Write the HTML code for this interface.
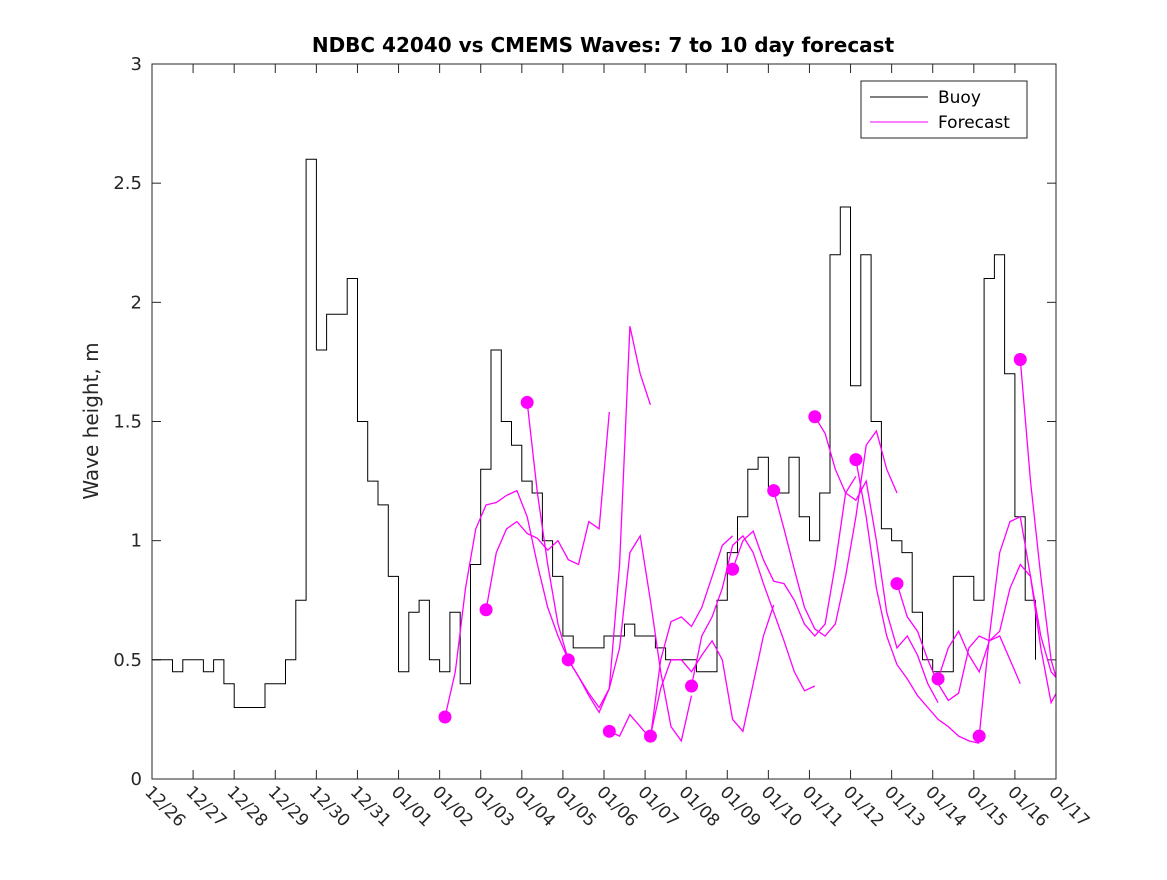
<!DOCTYPE html>
<html><head><meta charset="utf-8"><style>
body{margin:0;background:#fff;}
svg{font-family:"DejaVu Sans","Liberation Sans",sans-serif;}
</style></head><body>
<svg id="chart" width="1167" height="875" viewBox="0 0 1167 875" xmlns="http://www.w3.org/2000/svg">
<rect width="1167" height="875" fill="#fff"/>
<defs><clipPath id="clip"><rect x="152" y="64" width="904" height="715"/></clipPath></defs>
<text x="603" y="52" text-anchor="middle" font-size="20" font-weight="bold" fill="#000">NDBC 42040 vs CMEMS Waves: 7 to 10 day forecast</text>
<text transform="translate(98,421) rotate(-90)" text-anchor="middle" font-size="20" fill="#262626">Wave height, m</text>
<g id="axes"></g>
<g id="series" clip-path="url(#clip)"></g>
<g id="dots"></g>
<rect x="152" y="64" width="904" height="715" fill="none" stroke="#262626" stroke-width="1"/>
<g>
<rect x="861" y="81" width="166" height="57" fill="#fff" stroke="#262626" stroke-width="1"/>
<line x1="870" y1="97" x2="928" y2="97" stroke="#000" stroke-width="1"/>
<text x="938" y="103" font-size="17" fill="#000">Buoy</text>
<line x1="870" y1="122" x2="928" y2="122" stroke="#f0f" stroke-width="1"/>
<text x="938" y="128" font-size="17" fill="#000">Forecast</text>
</g>
</svg>
<script>
const xTickLabels = ["12/26","12/27","12/28","12/29","12/30","12/31","01/01","01/02","01/03","01/04","01/05","01/06","01/07","01/08","01/09","01/10","01/11","01/12","01/13","01/14","01/15","01/16","01/17"];
const yTicks = [0,0.5,1,1.5,2,2.5,3];
const yTickLabels = ["0","0.5","1","1.5","2","2.5","3"];
// buoy values every 6 hours starting 12/26 00:00
const buoyStep = 0.25;
const buoyValues = [
0.5,0.5,0.45,0.5,
0.5,0.45,0.5,0.4,
0.3,0.3,0.3,0.4,
0.4,0.5,0.75,2.6,
1.8,1.95,1.95,2.1,
1.5,1.25,1.15,0.85,
0.45,0.7,0.75,0.5,
0.45,0.7,0.4,0.9,
1.3,1.8,1.5,1.4,
1.25,1.2,1.0,0.85,
0.6,0.55,0.55,0.55,
0.6,0.6,0.65,0.6,
0.6,0.55,0.5,0.5,
0.5,0.45,0.45,0.75,
0.95,1.1,1.3,1.35,
1.2,1.2,1.35,1.1,
1.0,1.2,2.2,2.4,
1.65,2.2,1.5,1.05,
1.0,0.95,0.7,0.5,
0.45,0.45,0.85,0.85,
0.75,2.1,2.2,1.7,
1.1,0.75,0.5];
// forecast start days (days since 12/26) and values every 6 h over 72 h
const forecastStarts = [7.13,8.13,9.13,10.13,11.13,12.13,13.13,14.13,15.13,16.13,17.13,18.13,19.13,20.13,21.13];
const forecastStep = 0.25;
const f01 = [0.26,0.45,0.8,1.05,1.15,1.16,1.19,1.21,1.1,0.9,0.72,0.6,0.5];
const f02 = [0.71,0.95,1.05,1.08,1.03,1.01,0.96,1.0,0.92,0.9,1.08,1.05,1.54];
const f03 = [1.58,1.2,0.9,0.65,0.5,0.43,0.36,0.3,0.38,0.9,1.9,1.7,1.57];
const f04 = [0.5,0.43,0.35,0.28,0.38,0.55,0.95,1.02,0.75,0.45,0.22,0.16,0.35];
const f05 = [0.2,0.18,0.27,0.22,0.17,0.5,0.66,0.68,0.64,0.72,0.85,0.98,1.02];
const f06 = [0.18,0.38,0.5,0.5,0.45,0.52,0.58,0.5,0.25,0.2,0.4,0.6,0.73];
const f07 = [0.39,0.6,0.68,0.8,0.98,1.02,0.95,0.82,0.7,0.58,0.45,0.37,0.39];
const f08 = [0.88,1.0,1.04,0.92,0.83,0.82,0.75,0.65,0.6,0.65,0.9,1.2,1.27];
const f09 = [1.21,1.05,0.88,0.72,0.63,0.6,0.65,0.85,1.1,1.4,1.46,1.3,1.2];
const f10 = [1.52,1.45,1.3,1.2,1.17,1.25,1.0,0.7,0.55,0.6,0.52,0.4,0.32];
const f11 = [1.34,1.1,0.8,0.6,0.48,0.42,0.35,0.3,0.25,0.22,0.18,0.16,0.15];
const f12 = [0.82,0.68,0.62,0.5,0.4,0.33,0.36,0.55,0.6,0.58,0.6,0.5,0.4];
const f13 = [0.42,0.55,0.62,0.52,0.45,0.58,0.62,0.8,0.9,0.85,0.6,0.45,0.4];
const f14 = [0.18,0.6,0.95,1.08,1.1,0.85,0.55,0.32,0.4,0.65,0.7,0.7,0.7];
const f15 = [1.76,1.25,0.85,0.5,0.35,0.35,0.35,0.35,0.35,0.35,0.35,0.35,0.35];
const forecasts = [f01,f02,f03,f04,f05,f06,f07,f08,f09,f10,f11,f12,f13,f14,f15];

const X0=152,X1=1056,Y0=779,Y1=64,DAYS=22,YMAX=3;
function xs(d){return X0+(X1-X0)*d/DAYS;}
function ys(v){return Y0-(Y0-Y1)*v/YMAX;}
const NS="http://www.w3.org/2000/svg";
function mk(tag,attrs,parent){const e=document.createElementNS(NS,tag);for(const k in attrs)e.setAttribute(k,attrs[k]);parent.appendChild(e);return e;}
const axes=document.getElementById('axes');
xTickLabels.forEach((lab,i)=>{
  const x=xs(i);
  const t1=mk('line',{x1:x,y1:Y0,x2:x,y2:Y0-9,stroke:'#262626'},axes);
  
  
  const t2=mk('line',{x1:x,y1:Y1,x2:x,y2:Y1+9,stroke:'#262626'},axes);
  
  
  const tx=mk('text',{x:0,y:0,transform:`translate(${x-8},${Y0+14}) rotate(45)`,'font-size':17,fill:'#262626'},axes);
  tx.textContent=lab;
  
  
});
yTicks.forEach((v,i)=>{
  const y=ys(v);
  const a=mk('line',{x1:X0,y1:y,x2:X0+9,y2:y,stroke:'#262626'},axes);
  
  
  const b=mk('line',{x1:X1,y1:y,x2:X1-9,y2:y,stroke:'#262626'},axes);
  
  
  const t=mk('text',{x:X0-10,y:y+6,'text-anchor':'end','font-size':18,fill:'#262626'},axes);
  t.textContent=yTickLabels[i];
  
  
});
const series=document.getElementById('series');
let bpts=[];
buoyValues.forEach((v,i)=>{
  const xa=xs(i*buoyStep), xb=xs((i+1)*buoyStep), y=ys(v);
  bpts.push(xa.toFixed(1)+','+y.toFixed(1));
  if(i<buoyValues.length-1) bpts.push(xb.toFixed(1)+','+y.toFixed(1));
});
const bl=mk('polyline',{points:bpts.join(' '),fill:'none',stroke:'#000','stroke-width':1},series);


const dots=document.getElementById('dots');
forecasts.forEach((arr,k)=>{
  const s=forecastStarts[k];
  const pts=arr.map((v,i)=>xs(s+i*forecastStep).toFixed(1)+','+ys(v).toFixed(1)).join(' ');
  const pl=mk('polyline',{points:pts,fill:'none',stroke:'#f0f','stroke-width':1.3},series);
  
  
  const c=mk('circle',{cx:xs(s),cy:ys(arr[0]),r:6.5,fill:'#f0f'},dots);
  
  
});
</script>
</body></html>
